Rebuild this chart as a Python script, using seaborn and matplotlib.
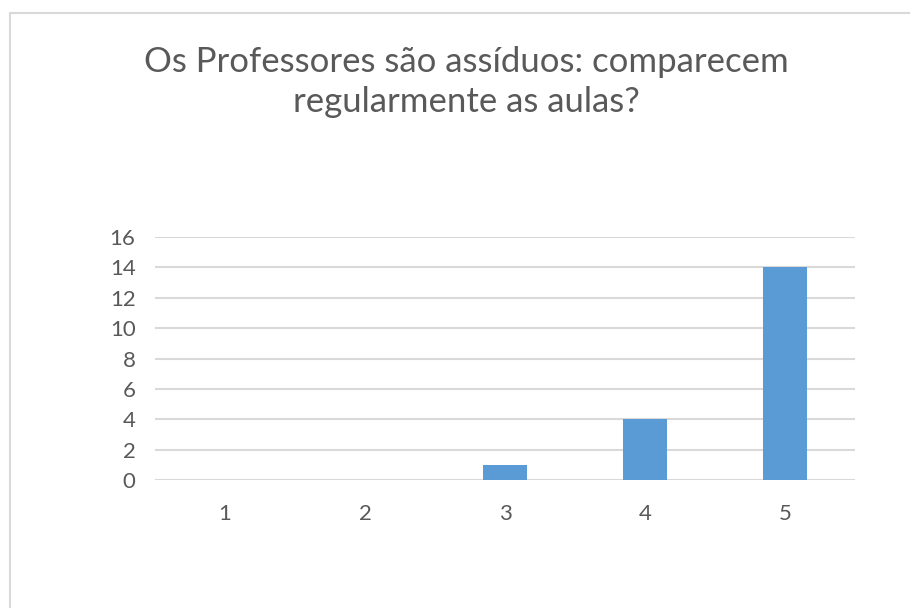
import matplotlib
matplotlib.use("Agg")
import matplotlib.pyplot as plt
import seaborn as sns
import pandas as pd
from matplotlib.patches import Rectangle

# dados
categorias = ["1", "2", "3", "4", "5"]
respostas = [0, 0, 1, 4, 14]
y_ticks = [0, 2, 4, 6, 8, 10, 12, 14, 16]
titulo = "Os Professores são assíduos: comparecem\nregularmente as aulas?"

sns.set_theme(style="white")
plt.rcParams["font.family"] = ["Lato", "DejaVu Sans"]

texto_cor = "#595959"
grade_cor = "#d9d9d9"
barra_cor = "#5b9bd5"

df = pd.DataFrame({"nota": categorias, "qtd": respostas})

fig = plt.figure(figsize=(9.1, 6.08), dpi=100)
ax = fig.add_axes([0.1703, 0.2105, 0.7692, 0.3997])

sns.barplot(data=df, x="nota", y="qtd", color=barra_cor, saturation=1,
            width=0.314, linewidth=0, ax=ax, zorder=3)

ax.set_ylim(0, 16)
ax.set_yticks(y_ticks)
ax.yaxis.grid(True, color=grade_cor, lw=1.5, zorder=0)
ax.xaxis.grid(False)
for s in ax.spines.values():
    s.set_visible(False)
ax.set_xlabel("")
ax.set_ylabel("")
ax.tick_params(axis="both", length=0, labelsize=16, labelcolor=texto_cor)
ax.tick_params(axis="y", pad=14)
ax.tick_params(axis="x", pad=17)

fig.text(0.513, 0.865, titulo, ha="center", va="center", fontsize=25,
         color=texto_cor, linespacing=1.3)

# moldura da área do gráfico
fig.patches.append(Rectangle((10 / 910, -0.1), 1.2, 1.1 - 13 / 608,
                             transform=fig.transFigure, fill=False,
                             edgecolor="#d9d9d9", lw=1.5))

fig.savefig("out.png", dpi=100)
